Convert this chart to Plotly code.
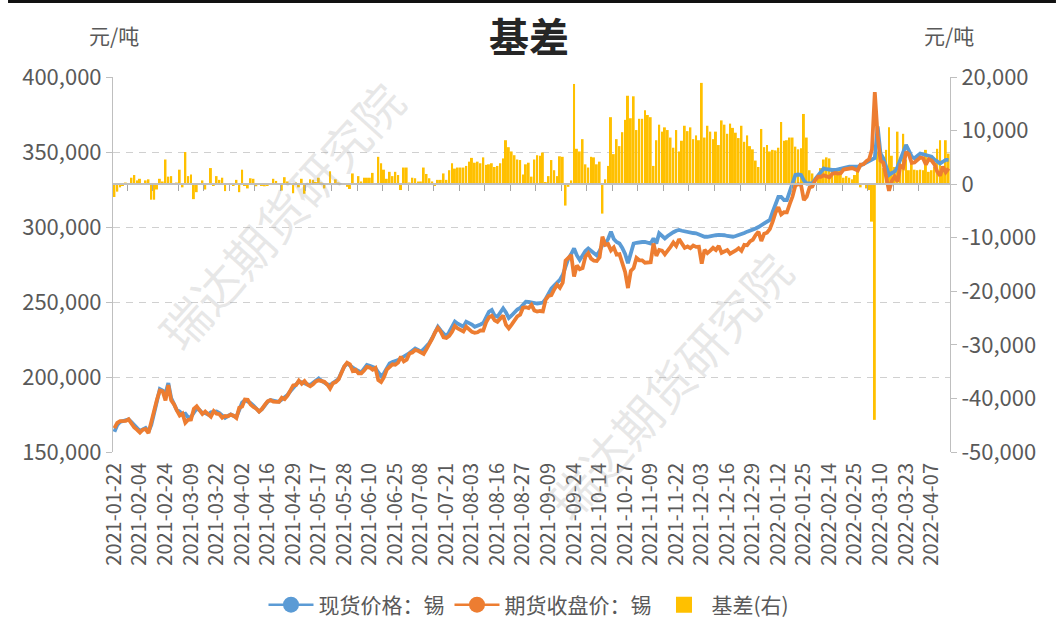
"""
基差 chart: tin spot vs futures, basis on right axis
"""

import pandas as pd
import plotly.graph_objects as go


# trading calendar (exchange holidays + one day missing in the spot series)
holidays = [
    "2021-02-11", "2021-02-12", "2021-02-15", "2021-02-16", "2021-02-17",
    "2021-04-05", "2021-05-03", "2021-05-04", "2021-05-05",
    "2021-06-11", "2021-06-14", "2021-09-20", "2021-09-21",
    "2021-10-01", "2021-10-04", "2021-10-05", "2021-10-06", "2021-10-07",
    "2022-01-03", "2022-01-31", "2022-02-01", "2022-02-02", "2022-02-03",
    "2022-02-04", "2022-04-04", "2022-04-05",
]
dates = [
    d.strftime("%Y-%m-%d")
    for d in pd.bdate_range("2021-01-22", "2022-04-15", freq="C", holidays=holidays)
]

# 现货价格：锡 (元/吨)
spot = [
    163500, 168000, 170000, 170500, 171000, 171800, 170000, 168000, 165500,
    164000, 165000, 166000, 163500, 168000, 176000, 184000, 192000, 191000,
    189000, 196000, 186000, 182000, 178000, 177000, 175000, 175500, 173000,
    173500, 176000, 179000, 178000, 176000, 176000, 175000, 176500, 177000,
    177000, 176000, 174000, 172700, 174000, 175000, 174000, 173500, 178000,
    183000, 184700, 184000, 182700, 181000, 178500, 177000, 178500, 181000,
    183500, 184700, 184500, 184000, 183500, 185000, 186500, 188000, 190500,
    192700, 195000, 197000, 196500, 195500, 195000, 194700, 196000, 197500,
    199000, 197500, 196000, 195000, 194700, 196000, 197500, 198700, 203000,
    207000, 209000, 207500, 206000, 205000, 204000, 203000, 205500, 208000,
    207500, 207000, 206000, 203000, 200500, 202500, 206000, 209000, 210000,
    210500, 211300, 212500, 213500, 214700, 216000, 217500, 219000, 218000,
    216900, 218500, 220500, 222700, 226000, 229500, 233500, 231000, 228500,
    226900, 230000, 234000, 236900, 235500, 234500, 233500, 236900, 236000,
    235000, 233500, 234000, 235000, 236000, 240000, 243500, 244700, 241000,
    240200, 243000, 245800, 243000, 239300, 241000, 243500, 245000, 246000,
    248000, 250200, 250000, 249500, 249000, 249000, 249300, 249600, 252000,
    255500, 259000, 261000, 263000, 264700, 268000, 273500, 279000, 282000,
    285700, 281000, 278000, 281000, 284000, 285700, 284000, 282500, 281000,
    284000, 288000, 289000, 292000, 296900, 292000, 290000, 289000, 286000,
    282000, 275800, 283000, 289000, 289500, 290000, 290000, 290000, 289500,
    289000, 292400, 289000, 295800, 294000, 292400, 294000, 295500, 296500,
    297500, 298000, 297500, 297000, 296900, 296500, 296000, 295800, 295000,
    294500, 293500, 293500, 294000, 294500, 294500, 294700, 294700, 294500,
    294000, 293500, 293500, 294000, 294500, 295000, 296000, 296900, 297500,
    298000, 299000, 300000, 301000, 302400, 303500, 304700, 310000, 315800,
    320000, 320000, 318000, 318000, 324000, 329000, 334700, 335000, 334700,
    331000, 329000, 329000, 329000, 332000, 334700, 336500, 339000, 338500,
    338000, 338000, 338000, 338500, 339000, 339500, 340000, 340200, 340200,
    340200, 340200, 341000, 342000, 343000, 344000, 344700, 346000, 367000,
    349000, 345800, 340000, 334700, 336000, 336900, 340000, 344700, 349000,
    354700, 351000, 347000, 345800, 347500, 349000, 348500, 348000, 347500,
    346900, 345000, 343500, 342400, 343500, 344700, 344700,
]

# 期货收盘价：锡 (元/吨)
futures = [
    165900, 169400, 170600, 170700, 170700, 171800, 168800, 166300, 164800,
    163000, 164900, 165300, 162600, 170900, 178900, 185000, 191000, 190500,
    184400, 194600, 184500, 181800, 177700, 174300, 175600, 169500, 171500,
    171700, 178800, 180500, 177900, 175300, 177000, 174800, 173500, 177300,
    175500, 175200, 172800, 174000, 173800, 174900, 174200, 172700, 179500,
    180300, 185000, 184800, 181600, 180000, 178900, 176900, 178700, 181400,
    183800, 184600, 183500, 183400, 183400, 186200, 185200, 187500, 190400,
    194400, 194700, 197600, 195500, 197300, 194900, 193800, 195200, 197100,
    197800, 197200, 196800, 195000, 192300, 195800, 196600, 198400, 202800,
    207000, 209500, 208400, 204000, 204800, 202500, 202500, 204300, 206800,
    206300, 204900, 206000, 197900, 196600, 199800, 205000, 206700, 208500,
    208200, 209600, 213600, 210400, 211600, 215700, 216300, 217900, 217500,
    216400, 215400, 218600, 221600, 225500, 229700, 232700, 230200, 226500,
    226100, 227400, 230100, 234000, 232400, 231400, 230400, 233500, 231800,
    230100, 229500, 229800, 231100, 231000, 236400, 239800, 240800, 237800,
    236800, 239100, 241000, 234800, 232400, 234900, 238100, 240400, 241500,
    246200, 246500, 246000, 248100, 244400, 243600, 244000, 243700, 251600,
    254000, 254500, 258400, 261500, 259500, 262900, 277500, 279500, 281300,
    267000, 274400, 271900, 272600, 280300, 282600, 278900, 277500, 277300,
    279800, 293500, 288100, 288600, 284400, 286400, 281600, 281900, 276300,
    270000, 259300, 270700, 272600, 279400, 277800, 277800, 276200, 276600,
    276500, 289000, 280800, 284700, 284200, 281800, 283900, 286800, 289700,
    287400, 291900, 289400, 286100, 287000, 285900, 287600, 286700, 286800,
    275600, 284800, 282600, 284200, 286100, 284700, 287400, 282800, 283400,
    284600, 282200, 283000, 284400, 285900, 284100, 288100, 287800, 290400,
    291500, 294600, 296800, 290700, 295500, 296200, 298600, 303600, 309500,
    313200, 308400, 309900, 309800, 315300, 320300, 327700, 328500, 328000,
    317900, 320300, 326400, 327000, 331200, 333600, 333500, 334400, 333500,
    333200, 335400, 336000, 335600, 335800, 338300, 338500, 339000, 339300,
    338500, 337700, 341600, 341800, 343800, 345100, 351700, 390000, 360900,
    344200, 342800, 333600, 324100, 330700, 333700, 330200, 340800, 339600,
    350100, 348400, 342800, 343100, 344900, 346300, 345900, 341600, 345200,
    344300, 341800, 336900, 334200, 340300, 336500, 339000,
]

# 基差(右) (元/吨)
basis = [
    -2400, -1400, -600, -200, 300, 0, 1200, 1700, 700,
    1000, 100, 700, 900, -2900, -2900, -1000, 1000, 500,
    4600, 1400, 1500, 200, 300, 2700, -600, 6000, 1500,
    1800, -2800, -1500, 100, 700, -1000, 200, 3000, -300,
    1500, 800, 1200, -1300, 200, 100, -200, 800, -1500,
    2700, -300, -800, 1100, 1000, -400, 100, -200, -400,
    -300, 100, 1000, 600, 100, -1200, 1300, 500, 100,
    -1700, 300, -600, 1000, -1800, 100, 900, 800, 400,
    1200, 300, -800, 0, 2400, 200, 900, 300, 200,
    0, -500, -900, 2000, 200, 1500, 500, 1200, 1200,
    1200, 2100, 0, 5100, 3900, 2700, 1000, 2300, 1500,
    2300, 1700, -1100, 3100, 3100, 300, 1200, 1100, 500,
    500, 3100, 1900, 1100, 500, -200, 800, 800, 2000,
    800, 2600, 3900, 2900, 3100, 3100, 3100, 3400, 4200,
    4900, 4000, 4200, 3900, 5000, 3600, 3700, 3900, 3200,
    3400, 3900, 4800, 8200, 6900, 6100, 5400, 4600, 4500,
    1800, 3700, 4000, 1400, 4600, 5400, 5300, 5900, 400,
    1500, 4500, 2600, 1500, 5200, 5100, -4000, -500, 700,
    18700, 6600, 6100, 8400, 3700, 3100, 5100, 5000, 3700,
    4200, -5500, 900, 3400, 12500, 5600, 8400, 7100, 9700,
    12000, 16500, 12300, 16400, 10100, 12200, 12200, 13800, 12900,
    12500, 3400, 8200, 11100, 9800, 10600, 10100, 8700, 6800,
    10100, 6100, 8100, 10900, 9900, 10600, 8400, 9100, 8200,
    18900, 8700, 10900, 9800, 8400, 9800, 7300, 11900, 11100,
    9400, 11300, 10500, 9600, 8600, 10900, 7900, 9100, 7100,
    6500, 4400, 3200, 10300, 6900, 7300, 6100, 6400, 6300,
    6800, 11600, 8100, 8200, 8700, 8700, 7000, 6500, 6700,
    13100, 8700, 2600, 2000, 800, 1100, 3000, 4600, 5000,
    4800, 2600, 2000, 2900, 3200, 1200, 1500, 1200, 900,
    1700, 2500, -600, 200, -800, -1100, -7000, -44000, 6100,
    4800, 3000, 6400, 10600, 5300, 3200, 9800, 3900, 9400,
    4600, 2600, 4200, 2700, 2600, 2700, 2600, 6400, 2300,
    2600, 3200, 6600, 8200, 3200, 8200, 5700,
]

right_ticks = [20000, 10000, 0, -10000, -20000, -30000, -40000, -50000]
label_step = 9

FONT = "Noto Sans CJK SC"
GREY = "#595959"
BLUE = "#5B9BD5"
ORANGE = "#ED7D31"
GOLD = "#FFC000"

n = len(dates)
x_range = [-0.5, n - 0.5]

fig = go.Figure()

# basis bars on the base subplot (right axis)
fig.add_trace(
    go.Bar(
        x=dates,
        y=basis,
        name="基差(右)",
        marker=dict(color=GOLD, line=dict(width=0)),
        xaxis="x",
        yaxis="y",
        showlegend=False,
    )
)

# price lines on the overlay subplot (left axis), drawn above the bars
for name, values, color in [
    ("现货价格：锡", spot, BLUE),
    ("期货收盘价：锡", futures, ORANGE),
]:
    fig.add_trace(
        go.Scatter(
            x=dates,
            y=values,
            mode="lines",
            name=name,
            line=dict(color=color, width=3.8),
            xaxis="x2",
            yaxis="y2",
            showlegend=False,
        )
    )

# legend entries
for name, color in [("现货价格：锡", BLUE), ("期货收盘价：锡", ORANGE)]:
    fig.add_trace(
        go.Scatter(
            x=[None],
            y=[None],
            mode="lines+markers",
            name=name,
            line=dict(color=color, width=2.5),
            marker=dict(color=color, size=16),
            xaxis="x2",
            yaxis="y2",
        )
    )
fig.add_trace(
    go.Scatter(
        x=[None],
        y=[None],
        mode="markers",
        name="基差(右)",
        marker=dict(color=GOLD, size=16, symbol="square"),
        xaxis="x2",
        yaxis="y2",
    )
)

zero_pos = (0 - right_ticks[-1]) / (right_ticks[0] - right_ticks[-1])

fig.update_layout(
    width=1056,
    height=620,
    margin=dict(l=113, r=106, t=77, b=168),
    paper_bgcolor="white",
    plot_bgcolor="white",
    font=dict(family=FONT, color=GREY, size=17),
    bargap=0.3,
    xaxis=dict(
        type="category",
        range=x_range,
        anchor="free",
        position=zero_pos,
        showline=True,
        linecolor="#BFBFBF",
        linewidth=1.5,
        ticks="outside",
        ticklen=6,
        tickcolor="#A6A6A6",
        tickvals=[4.5 + k * label_step for k in range(n // label_step)],
        showticklabels=False,
        showgrid=False,
        automargin=False,
    ),
    yaxis=dict(
        side="right",
        range=[right_ticks[-1], right_ticks[0]],
        tickvals=right_ticks,
        ticktext=[f"{v:,}" for v in right_ticks],
        showline=True,
        linecolor="#BFBFBF",
        ticks="outside",
        ticklen=6,
        tickcolor="#BFBFBF",
        showgrid=False,
        zeroline=False,
        tickfont=dict(size=22),
        automargin=False,
    ),
    xaxis2=dict(
        type="category",
        range=x_range,
        overlaying="x",
        anchor="y2",
        side="bottom",
        tickvals=dates[::label_step],
        tickangle=-90,
        tickfont=dict(size=20),
        ticklabelstandoff=6,
        showline=False,
        showgrid=False,
        ticks="",
        automargin=False,
    ),
    yaxis2=dict(
        overlaying="y",
        anchor="x2",
        side="left",
        range=[150000, 400000],
        dtick=50000,
        tickformat=",",
        showgrid=True,
        gridcolor="#D0D0D0",
        griddash="7px,6px",
        gridwidth=1.2,
        showline=True,
        linecolor="#BFBFBF",
        ticks="outside",
        ticklen=6,
        tickcolor="#BFBFBF",
        zeroline=False,
        tickfont=dict(size=22),
        automargin=False,
    ),
    legend=dict(
        orientation="h",
        x=0.497,
        xanchor="center",
        yref="container",
        y=(620 - 605) / 620,
        yanchor="middle",
        itemwidth=45,
        font=dict(size=21, color=GREY),
        bgcolor="rgba(0,0,0,0)",
    ),
)

# title, unit labels and watermark
fig.add_annotation(
    text="<b>基差</b>", x=0.497, y=1.112, xref="paper", yref="paper",
    xanchor="center", yanchor="middle",
    showarrow=False, font=dict(size=40, color="#262626"),
)
for xpos in [0.001, 0.9988]:
    fig.add_annotation(
        text="元/吨", x=xpos, y=1.112, xref="paper", yref="paper",
        xanchor="center", yanchor="middle",
        showarrow=False, font=dict(size=21, color=GREY),
    )
for xpos, ypos in [(0.1995, 0.632), (0.663, 0.179)]:
    fig.add_annotation(
        text="瑞达期货研究院", x=xpos, y=ypos, xref="paper", yref="paper",
        xanchor="center", yanchor="middle",
        showarrow=False, textangle=-48,
        font=dict(size=48, color="rgba(160,160,160,0.25)"),
    )

# dark rule along the top edge
fig.add_shape(
    type="line", xref="paper", yref="paper",
    x0=-0.1254, x1=1.1266, y0=1.2013, y1=1.2013,
    line=dict(color="#111111", width=3),
)

# the figure sits flush with the page edge, like the original export
fig.write_html(
    "out.html",
    config={"displayModeBar": False},
    post_script="document.body.style.margin = '0';",
)
